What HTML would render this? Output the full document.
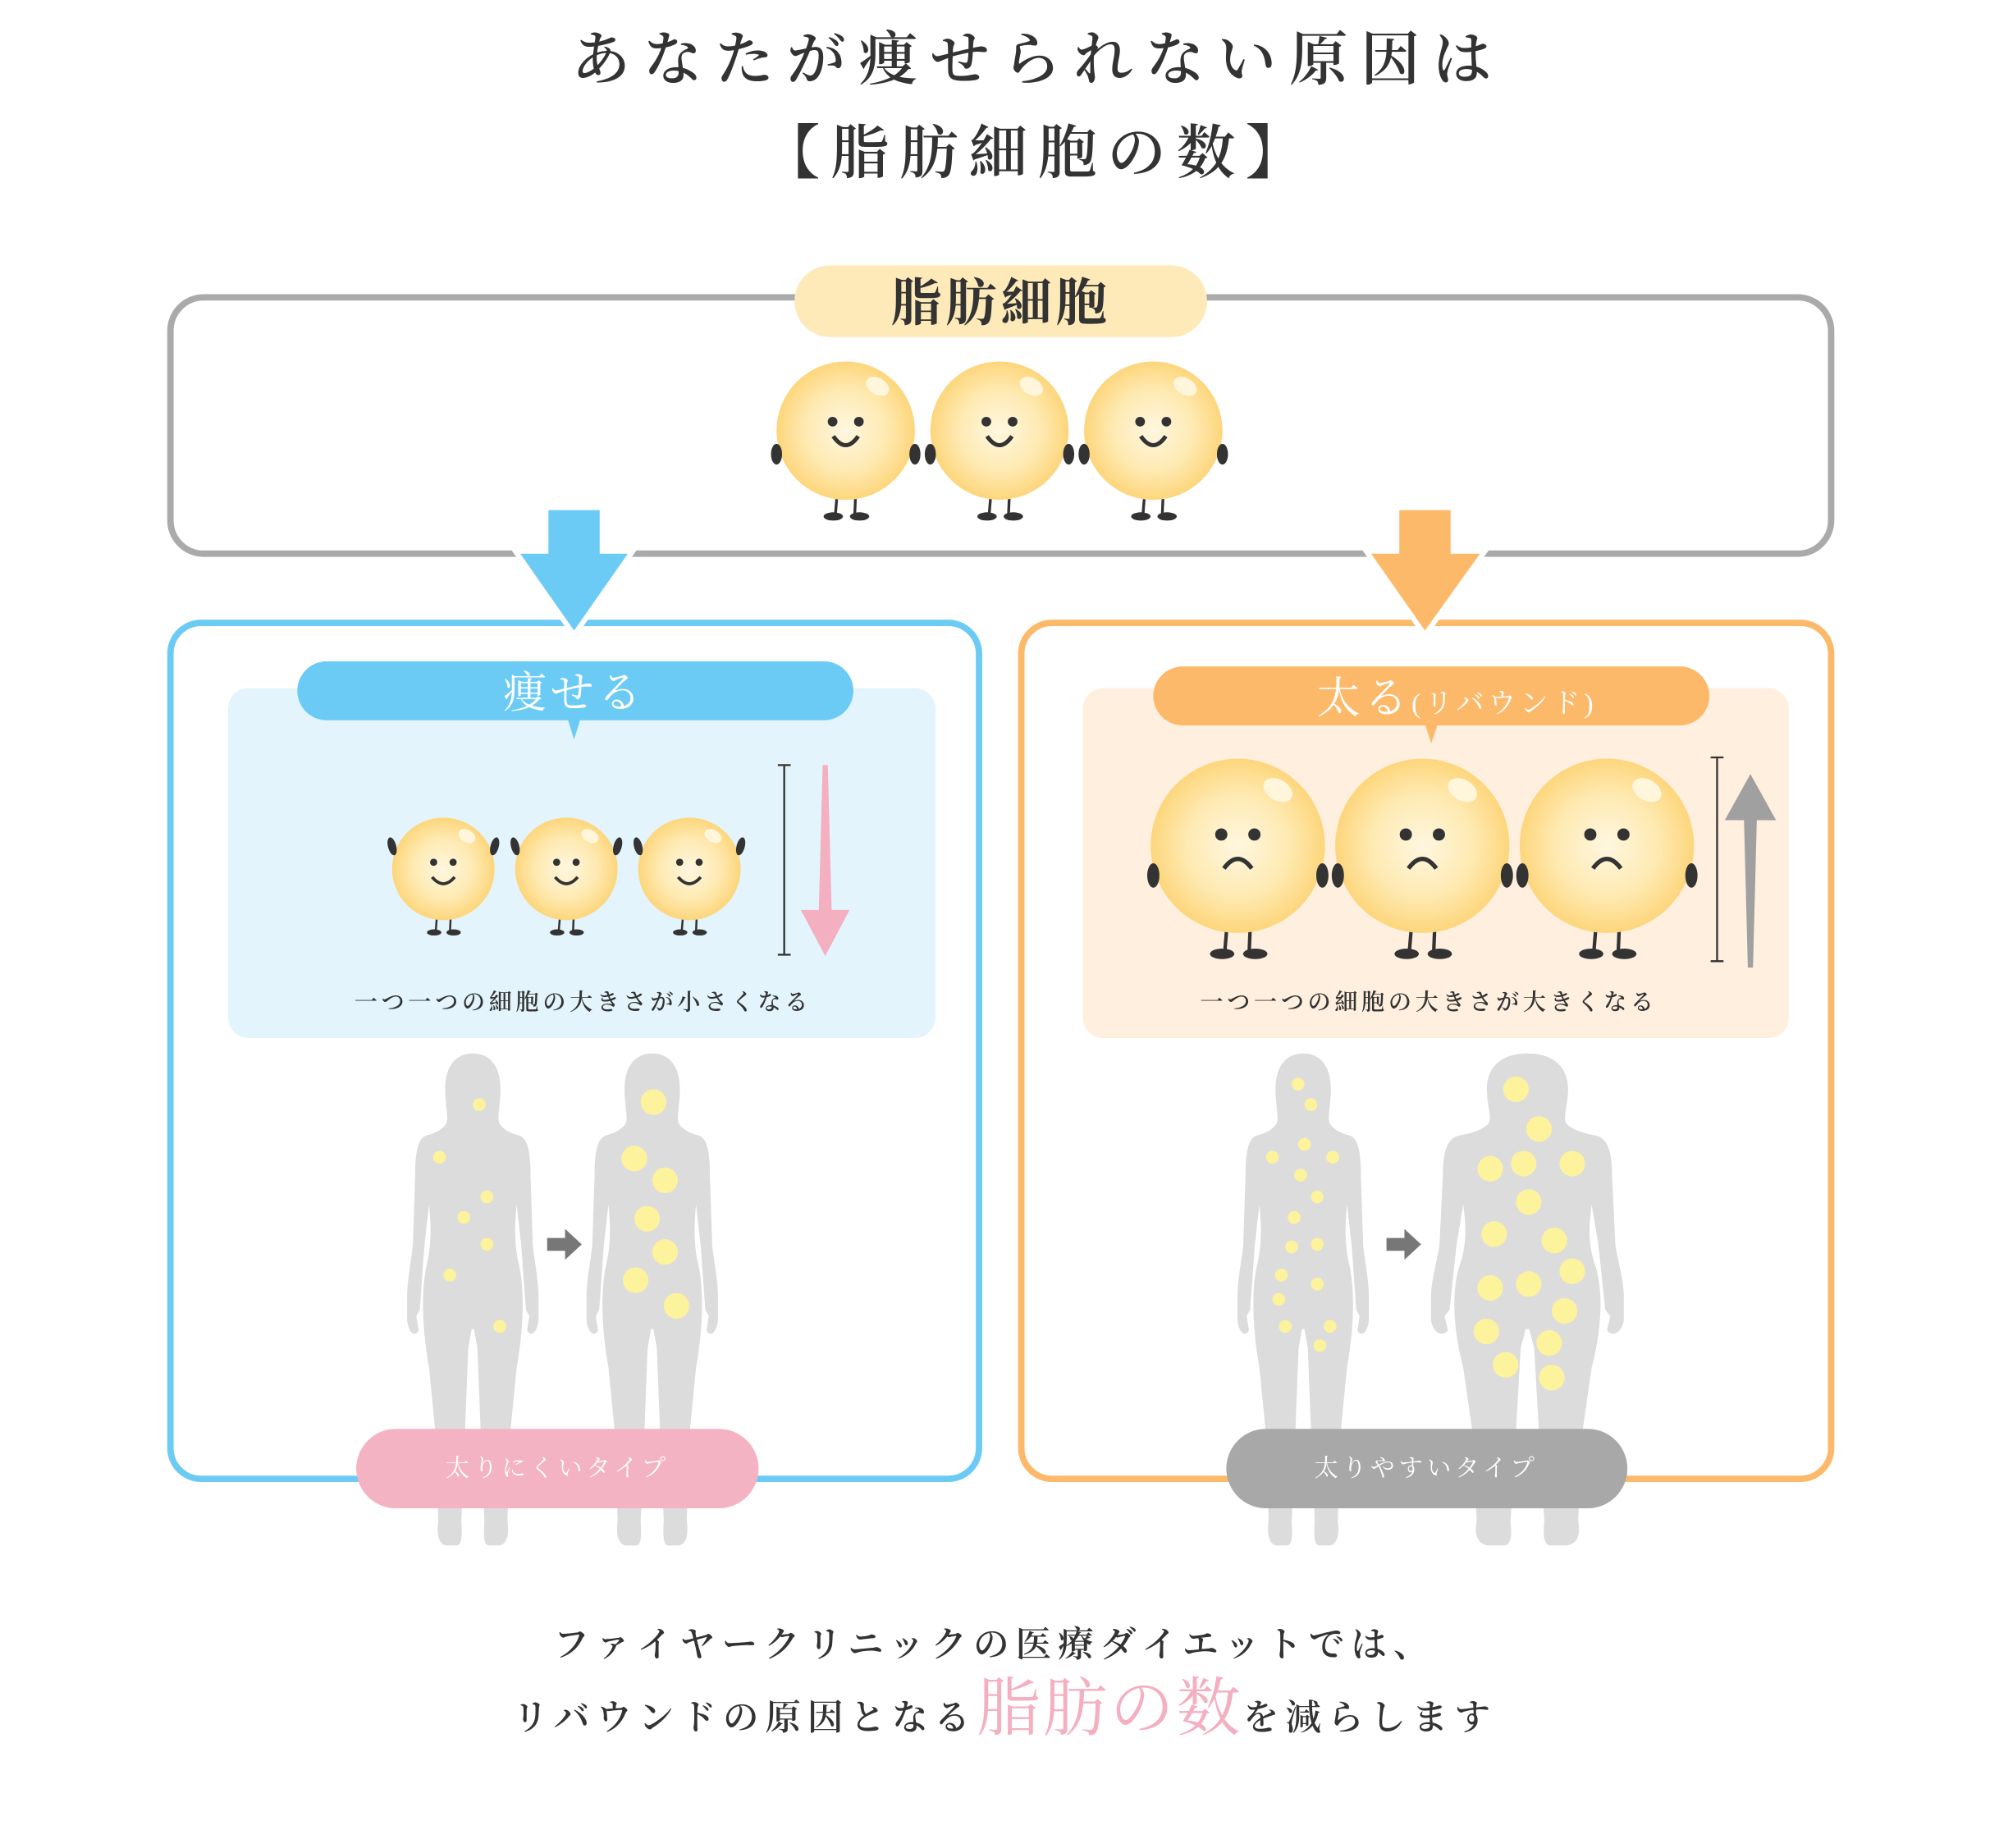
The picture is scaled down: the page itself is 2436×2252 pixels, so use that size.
<!DOCTYPE html>
<html><head><meta charset="utf-8"><style>
html,body{margin:0;padding:0;background:#fff;}
svg{display:block;}
text{font-family:"Liberation Serif","Noto Serif CJK SC","Noto Sans CJK JP",serif;}
</style></head><body>
<svg width="2436" height="2252" viewBox="0 0 1560 1442" xmlns="http://www.w3.org/2000/svg">
<defs>
<radialGradient id="cg" cx="0.5" cy="0.5" r="0.5">
<stop offset="0" stop-color="#fff7e0"/><stop offset="0.6" stop-color="#fee9b0"/><stop offset="1" stop-color="#fdd67c"/>
</radialGradient>
<g id="body">
<path d="M-13,98 L-15,122 M14,98 L13,122" stroke="#333" stroke-width="4" fill="none"/>
<ellipse cx="-18" cy="124" rx="14" ry="6" fill="#333"/><ellipse cx="20" cy="124" rx="14" ry="6" fill="#333"/>
<circle r="100" fill="url(#cg)"/>
<ellipse cx="46" cy="-64" rx="18" ry="12" transform="rotate(30 46 -64)" fill="#fff6dc"/>
<circle cx="-19" cy="-13" r="7" fill="#333"/><circle cx="19" cy="-13" r="7" fill="#333"/>
</g>
<g id="happy"><use href="#body"/>
<path d="M-18,8 Q0,34 18,8" stroke="#333" stroke-width="6" fill="none"/>
<ellipse cx="-100" cy="34" rx="8" ry="15" fill="#333"/><ellipse cx="100" cy="34" rx="8" ry="15" fill="#333"/></g>
<g id="up"><use href="#body"/>
<path d="M-22,16 Q0,42 22,16" stroke="#333" stroke-width="6" fill="none"/>
<ellipse cx="-100" cy="-44" rx="8" ry="18" transform="rotate(-15 -100 -44)" fill="#333"/><ellipse cx="100" cy="-44" rx="8" ry="18" transform="rotate(15 100 -44)" fill="#333"/></g>
<g id="sad"><use href="#body"/>
<path d="M-16,26 Q0,4 16,26" stroke="#333" stroke-width="5" fill="none"/>
<ellipse cx="-97" cy="34" rx="7" ry="14" fill="#333"/><ellipse cx="97" cy="34" rx="7" ry="14" fill="#333"/></g>
<path id="woman" fill="#dcdcdc" d="M0,0 C15,0 24,10 24,28 C24,42 20,52 24,56 C28,60 32,62 40,64 C48,66 50,78 50,95 L52,150 C54,165 57,178 57,190 L57,208 C56,218 50,222 47,216 L49,205 L46,200 L42,150 L38,118 C36,135 36,150 40,165 C45,185 44,215 38,245 L32,300 L30,365 C32,378 28,384 22,384 L14,384 C10,384 9,378 10,365 L7,300 L4,230 L1,215 L-1,215 L-4,230 L-7,300 L-10,365 C-9,378 -10,384 -14,384 L-22,384 C-28,384 -32,378 -30,365 L-32,300 L-38,245 C-44,215 -45,185 -40,165 C-36,150 -36,135 -38,118 L-42,150 L-46,200 L-49,205 L-47,216 C-50,222 -56,218 -57,208 L-57,190 C-57,178 -54,165 -52,150 L-50,95 C-50,78 -48,66 -40,64 C-32,62 -28,60 -24,56 C-20,52 -24,42 -24,28 C-24,10 -15,0 0,0 Z"/>
<path id="sarr" fill="#777" d="M-13,-5 L1,-5 L1,-12 L14,0 L1,12 L1,5 L-13,5 Z"/>
</defs>

<!-- title -->
<text x="810" y="62" font-size="46" fill="#333" text-anchor="middle" letter-spacing="10" font-weight="600">あなたが痩せられない原因は</text>
<text x="810" y="135" font-size="46" fill="#333" text-anchor="middle" letter-spacing="8" font-weight="600">【脂肪細胞の数】</text>

<!-- top box -->
<rect x="133" y="232" width="1296" height="200" rx="26" fill="none" stroke="#aaaaaa" stroke-width="5"/>
<rect x="620" y="207" width="322" height="56" rx="28" fill="#feeab9"/>
<text x="781" y="250" font-size="40" fill="#333" text-anchor="middle" letter-spacing="3" font-weight="bold">脂肪細胞</text>
<use href="#happy" transform="translate(660,336) scale(0.54)"/>
<use href="#happy" transform="translate(780,336) scale(0.54)"/>
<use href="#happy" transform="translate(900,336) scale(0.54)"/>

<!-- boxes -->
<rect x="133" y="486" width="631" height="668" rx="24" fill="none" stroke="#6ccbf4" stroke-width="5"/>
<rect x="797" y="486" width="632" height="668" rx="24" fill="none" stroke="#fdb96a" stroke-width="5"/>

<!-- big arrows -->
<polygon points="428,398 468,398 468,432 490,432 448,492 406,432 428,432" fill="#6ccbf4" stroke="#fff" stroke-width="8"/>
<polygon points="428,398 468,398 468,432 490,432 448,492 406,432 428,432" fill="#6ccbf4"/>
<polygon points="1092,398 1132,398 1132,432 1155,432 1112,492 1070,432 1092,432" fill="#fdb96a" stroke="#fff" stroke-width="8"/>
<polygon points="1092,398 1132,398 1132,432 1155,432 1112,492 1070,432 1092,432" fill="#fdb96a"/>

<!-- left panel -->
<rect x="178" y="537" width="552" height="273" rx="16" fill="#e3f4fc"/>
<rect x="232" y="516" width="434" height="46" rx="23" fill="#6ccbf4"/>
<polygon points="443,561 453,561 448,577" fill="#6ccbf4"/>
<text x="448" y="552" font-size="34" fill="#fff" text-anchor="middle" letter-spacing="3">痩せる</text>
<use href="#up" transform="translate(346,678) scale(0.40)"/>
<use href="#up" transform="translate(442,678) scale(0.40)"/>
<use href="#up" transform="translate(538,678) scale(0.40)"/>
<path d="M612,597 L612,745 M607,597 L617,597 M607,745 L617,745" stroke="#333" stroke-width="1.5"/>
<polygon points="642,597 646,597 649,710 663,710 644,746 625,710 639,710" fill="#f4afc0"/>
<text x="455" y="788" font-size="18" fill="#333" text-anchor="middle" letter-spacing="3" font-weight="600">一つ一つの細胞の大きさが小さくなる</text>

<!-- right panel -->
<rect x="845" y="537" width="551" height="273" rx="16" fill="#ffefde"/>
<rect x="900" y="520" width="434" height="46" rx="23" fill="#fdb96a"/>
<polygon points="1112,565 1122,565 1117,580" fill="#fdb96a"/>
<text x="1137" y="556" text-anchor="middle" fill="#fff"><tspan font-size="34" letter-spacing="3">太る</tspan><tspan font-size="22" letter-spacing="3">(リバウンド)</tspan></text>
<use href="#sad" transform="translate(966,660) scale(0.68)"/>
<use href="#sad" transform="translate(1110,660) scale(0.68)"/>
<use href="#sad" transform="translate(1254,660) scale(0.68)"/>
<path d="M1340,591 L1340,750 M1335,591 L1345,591 M1335,750 L1345,750" stroke="#333" stroke-width="1.5"/>
<polygon points="1366,604 1386,640 1371,640 1368,755 1364,755 1361,640 1346,640" fill="#a0a0a0"/>
<text x="1115" y="788" font-size="18" fill="#333" text-anchor="middle" letter-spacing="3" font-weight="600">一つ一つの細胞の大きさが大きくなる</text>

<!-- silhouettes -->
<use href="#woman" transform="translate(369,822) scale(0.9,1)"/>
<use href="#woman" transform="translate(509,822) scale(0.9,1)"/>
<use href="#woman" transform="translate(1017,822) scale(0.9,1)"/>
<use href="#woman" transform="translate(1192,822) scale(1.32,1)"/>
<use href="#sarr" transform="translate(440,971)"/>
<use href="#sarr" transform="translate(1095,971)"/>
<g fill="#fdf39d">
<circle cx="374" cy="862" r="5"/><circle cx="343" cy="903" r="5"/><circle cx="380" cy="934" r="5"/><circle cx="362" cy="950" r="5"/><circle cx="380" cy="971" r="5"/><circle cx="351" cy="995" r="5"/><circle cx="390" cy="1035" r="5"/>
<circle cx="510" cy="860" r="10"/><circle cx="495" cy="904" r="10"/><circle cx="519" cy="921" r="10"/><circle cx="505" cy="951" r="10"/><circle cx="519" cy="977" r="10"/><circle cx="496" cy="999" r="10"/><circle cx="528" cy="1019" r="10"/>
<circle cx="1013" cy="846" r="5"/><circle cx="1023" cy="862" r="5"/><circle cx="993" cy="903" r="5"/><circle cx="1018" cy="893" r="5"/><circle cx="1040" cy="903" r="5"/><circle cx="1015" cy="917" r="5"/><circle cx="1028" cy="934" r="5"/><circle cx="1010" cy="950" r="5"/><circle cx="1028" cy="971" r="5"/><circle cx="1008" cy="973" r="5"/><circle cx="1000" cy="995" r="5"/><circle cx="1028" cy="1002" r="5"/><circle cx="998" cy="1014" r="5"/><circle cx="1003" cy="1035" r="5"/><circle cx="1038" cy="1035" r="5"/><circle cx="1030" cy="1050" r="5"/>
<circle cx="1183" cy="850" r="10"/><circle cx="1201" cy="881" r="10"/><circle cx="1163" cy="912" r="10"/><circle cx="1189" cy="908" r="10"/><circle cx="1227" cy="908" r="10"/><circle cx="1193" cy="938" r="10"/><circle cx="1166" cy="963" r="10"/><circle cx="1213" cy="968" r="10"/><circle cx="1227" cy="992" r="10"/><circle cx="1163" cy="1005" r="10"/><circle cx="1193" cy="1002" r="10"/><circle cx="1221" cy="1023" r="10"/><circle cx="1160" cy="1039" r="10"/><circle cx="1209" cy="1048" r="10"/><circle cx="1175" cy="1065" r="10"/><circle cx="1211" cy="1075" r="10"/>
</g>

<!-- bottom pills -->
<rect x="278" y="1115" width="314" height="62" rx="31" fill="#f4b3c2"/>
<text x="435" y="1152" font-size="19" fill="#fff" text-anchor="middle" letter-spacing="3">太りにくいタイプ</text>
<rect x="957" y="1115" width="313" height="62" rx="31" fill="#a8a8a8"/>
<text x="1113" y="1152" font-size="19" fill="#fff" text-anchor="middle" letter-spacing="3">太りやすいタイプ</text>

<!-- bottom text -->
<text x="776" y="1293" font-size="28" fill="#333" text-anchor="middle" letter-spacing="5" font-weight="600">ファイヤークリニックの医療ダイエットでは、</text>
<text x="784" y="1350" text-anchor="middle" fill="#333" font-weight="600"><tspan font-size="28" letter-spacing="5">リバウンドの原因となる</tspan><tspan font-size="50" fill="#f4afc0" letter-spacing="2" font-weight="400">脂肪の数</tspan><tspan font-size="28" letter-spacing="5">を減らします</tspan></text>
</svg>
</body></html>
